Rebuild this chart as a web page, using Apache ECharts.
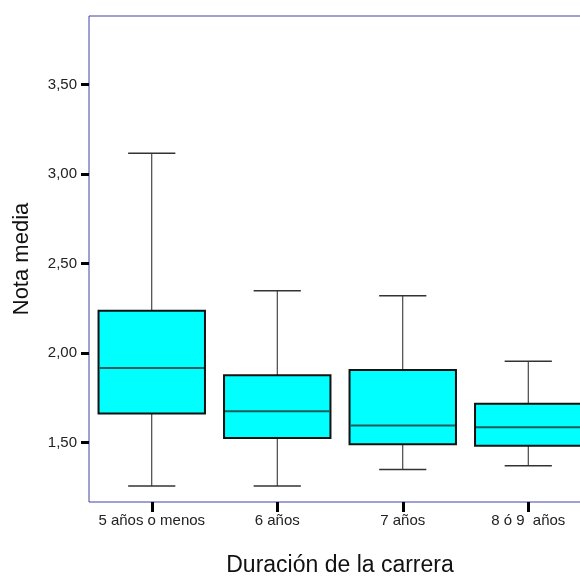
<!DOCTYPE html>
<html><head><meta charset="utf-8">
<script src="https://cdn.jsdelivr.net/npm/echarts@6/dist/echarts.min.js"></script>
<style>html,body{margin:0;padding:0;background:#fff}#c{width:580px;height:576px}</style>
</head><body><div id="c"></div>
<script>
const categories = ['5 años o menos', '6 años', '7 años', '8 ó 9  años'];
const whiskerLow  = [1.256, 1.256, 1.349, 1.369];
const q1          = [1.661, 1.524, 1.490, 1.481];
const median      = [1.916, 1.674, 1.595, 1.585];
const q3          = [2.236, 1.875, 1.905, 1.716];
const whiskerHigh = [3.116, 2.348, 2.320, 1.954];
const yTicks = [1.5, 2.0, 2.5, 3.0, 3.5];
const yMin = 1.167, yMax = 3.883;

const FONT = '"Liberation Sans", Arial, sans-serif';
const data = categories.map((c, i) => [i, whiskerLow[i], q1[i], median[i], q3[i], whiskerHigh[i]]);

function renderItem(params, api) {
  const x = api.value(0);
  const band = api.size([1, 0])[0];
  const boxW = band * 0.848, capW = band * 0.376;
  const cx = api.coord([x, api.value(1)])[0];
  const yLow = api.coord([x, api.value(1)])[1];
  const yQ1 = api.coord([x, api.value(2)])[1];
  const yMed = api.coord([x, api.value(3)])[1];
  const yQ3 = api.coord([x, api.value(4)])[1];
  const yHigh = api.coord([x, api.value(5)])[1];
  const wStyle = { stroke: '#222', lineWidth: 1 };
  const cStyle = { stroke: '#333', lineWidth: 1.5 };
  return {
    type: 'group',
    children: [
      { type: 'line', shape: { x1: cx, y1: yHigh, x2: cx, y2: yQ3 }, style: wStyle },
      { type: 'line', shape: { x1: cx, y1: yQ1, x2: cx, y2: yLow }, style: wStyle },
      { type: 'line', shape: { x1: cx - capW / 2, y1: yHigh, x2: cx + capW / 2, y2: yHigh }, style: cStyle },
      { type: 'line', shape: { x1: cx - capW / 2, y1: yLow, x2: cx + capW / 2, y2: yLow }, style: cStyle },
      { type: 'rect', shape: { x: cx - boxW / 2, y: yQ3, width: boxW, height: yQ1 - yQ3 },
        style: { fill: '#00ffff', stroke: '#111', lineWidth: 2 } },
      { type: 'line', shape: { x1: cx - boxW / 2 + 1, y1: yMed, x2: cx + boxW / 2 - 1, y2: yMed },
        style: { stroke: '#1f5a5a', lineWidth: 2 } }
    ]
  };
}

const chart = echarts.init(document.getElementById('c'), null, { renderer: 'canvas' });
chart.setOption({
  animation: false,
  backgroundColor: '#fff',
  grid: { left: 89, top: 16, width: 502, height: 486, show: true, borderColor: '#4040a8', borderWidth: 1,
    backgroundColor: 'transparent', outerBoundsMode: 'none', containLabel: false },
  xAxis: {
    type: 'category', data: categories, boundaryGap: true,
    axisLine: { show: false },
    axisTick: { show: true, alignWithLabel: true, length: 10, lineStyle: { color: '#000', width: 3 } },
    axisLabel: { color: '#222', fontFamily: FONT, fontSize: 15, margin: 11, interval: 0, hideOverlap: false },
    name: 'Duración de la carrera', nameLocation: 'middle', nameGap: 52,
    nameTextStyle: { color: '#111', fontFamily: FONT, fontSize: 23 }
  },
  yAxis: {
    type: 'value', min: yMin, max: yMax,
    axisLine: { show: false },
    splitLine: { show: false },
    axisTick: { show: true, length: 8, customValues: yTicks, lineStyle: { color: '#000', width: 3 } },
    axisLabel: { color: '#222', fontFamily: FONT, fontSize: 15, margin: 12, customValues: yTicks,
      formatter: v => v.toFixed(2).replace('.', ',') },
    name: 'Nota media', nameLocation: 'middle', nameGap: 56, nameRotate: 90,
    nameTextStyle: { color: '#111', fontFamily: FONT, fontSize: 22 }
  },
  series: [{
    type: 'custom', renderItem: renderItem, data: data,
    encode: { x: 0, y: [1, 2, 3, 4, 5] }, clip: false
  }]
});
</script></body></html>
